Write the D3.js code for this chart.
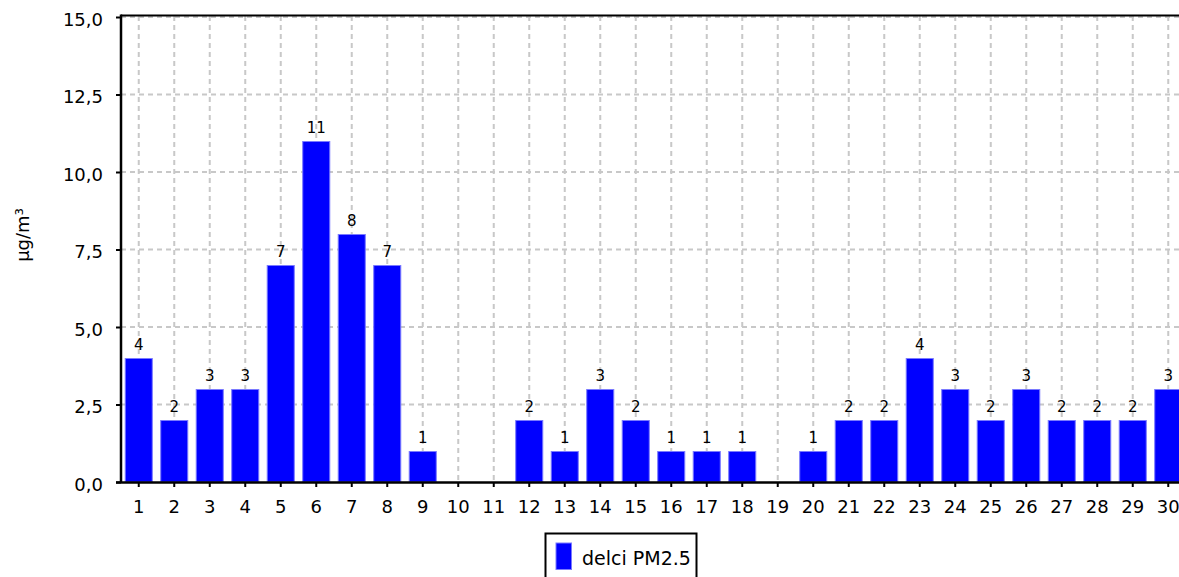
<!DOCTYPE html>
<html>
<head>
<meta charset="utf-8">
<script src="https://cdn.jsdelivr.net/npm/d3@7"></script>
<style>
  html, body { margin: 0; padding: 0; background: #fff; }
  svg { display: block; font-family: "DejaVu Sans", Verdana, sans-serif; }
</style>
</head>
<body>
<svg id="chart" width="1179" height="577"></svg>
<script>
const categories = ["1","2","3","4","5","6","7","8","9","10","11","12","13","14","15","16","17","18","19","20","21","22","23","24","25","26","27","28","29","30"];
const values = [4,2,3,3,7,11,8,7,1,0,0,2,1,3,2,1,1,1,0,1,2,2,4,3,2,3,2,2,2,3];
const yTicks = [0, 2.5, 5, 7.5, 10, 12.5, 15];
const yTitle = "µg/m³";
const seriesName = "delci PM2.5";

(function () {
const svg = d3.select("#chart");
const pLeft = 121, pBottom = 482, pTop = 17;
const step = 35.5;
const pRight = pLeft + categories.length * step;

const x = d3.scaleBand().domain(categories).range([pLeft, pRight]).paddingInner(0.21).paddingOuter(0.105);
const y = d3.scaleLinear().domain([0, 15]).range([pBottom, pTop]);

// grid
const grid = svg.append("g").attr("stroke", "#c8c8c8").attr("stroke-width", 2).attr("stroke-dasharray", "5,4");
grid.selectAll("line.v").data(categories).join("line")
  .attr("x1", d => x(d) + x.bandwidth() / 2).attr("x2", d => x(d) + x.bandwidth() / 2)
  .attr("y1", pTop - 1).attr("y2", pBottom);
grid.selectAll("line.h").data(yTicks.filter(t => t > 0)).join("line")
  .attr("x1", pLeft).attr("x2", pRight).attr("y1", d => y(d)).attr("y2", d => y(d));

// bars
svg.append("g").selectAll("rect").data(values).join("rect")
  .attr("x", (d, i) => x(categories[i]) + 0.5)
  .attr("y", d => y(d) + 0.5)
  .attr("width", x.bandwidth() - 1)
  .attr("height", d => Math.max(0, pBottom - y(d) - 0.5))
  .attr("fill", "#0000ff")
  .attr("stroke", "#7a7aff")
  .attr("stroke-width", 1)
  .attr("display", d => d > 0 ? null : "none");

// value labels
svg.append("g").selectAll("text").data(values.map((v, i) => ({v, c: categories[i]})).filter(d => d.v > 0)).join("text")
  .attr("x", d => x(d.c) + x.bandwidth() / 2)
  .attr("y", d => y(d.v) - 8)
  .attr("text-anchor", "middle")
  .attr("font-size", 15)
  .attr("fill", "#000")
  .text(d => d.v);

// axes
const yAxis = svg.append("g").attr("transform", `translate(${pLeft},0)`)
  .call(d3.axisLeft(y).tickValues(yTicks).tickSize(5).tickPadding(13)
    .tickFormat(d => d3.format(".1f")(d).replace(".", ",")));
yAxis.select(".domain").remove();
yAxis.selectAll("line").attr("stroke", "#000").attr("stroke-width", 2);
yAxis.selectAll("text").attr("font-size", 18).attr("font-family", "DejaVu Sans").attr("fill", "#000").attr("dy", "0.45em");

const xAxis = svg.append("g").attr("transform", `translate(0,${pBottom})`)
  .call(d3.axisBottom(x).tickSize(5).tickPadding(13));
xAxis.select(".domain").remove();
xAxis.selectAll("line").attr("stroke", "#000").attr("stroke-width", 2);
xAxis.selectAll("text").attr("font-size", 18).attr("font-family", "DejaVu Sans").attr("fill", "#000");

// frame
svg.append("line").attr("x1", pLeft).attr("x2", pRight).attr("y1", pTop - 1.5).attr("y2", pTop - 1.5)
  .attr("stroke", "#000").attr("stroke-width", 2);
svg.append("line").attr("x1", pLeft).attr("x2", pLeft).attr("y1", pTop - 2.5).attr("y2", pBottom + 1)
  .attr("stroke", "#000").attr("stroke-width", 2.5);
svg.append("line").attr("x1", pLeft - 5).attr("x2", pRight).attr("y1", pBottom + 0.5).attr("y2", pBottom + 0.5)
  .attr("stroke", "#000").attr("stroke-width", 2.5);

// y title
svg.append("text")
  .attr("transform", "translate(29,235) rotate(-90)")
  .attr("text-anchor", "middle")
  .attr("font-size", 18)
  .attr("fill", "#000")
  .text(yTitle);

// legend
const lg = svg.append("g");
lg.append("rect").attr("x", 545.5).attr("y", 533.5).attr("width", 151).attr("height", 60)
  .attr("fill", "#fff").attr("stroke", "#000").attr("stroke-width", 2);
lg.append("rect").attr("x", 556).attr("y", 543).attr("width", 15.5).attr("height", 26.5)
  .attr("fill", "#0000ff").attr("stroke", "#7a7aff").attr("stroke-width", 1);
lg.append("text").attr("x", 582).attr("y", 565).attr("font-size", 19).attr("fill", "#000").text(seriesName);
})();
</script>
</body>
</html>
